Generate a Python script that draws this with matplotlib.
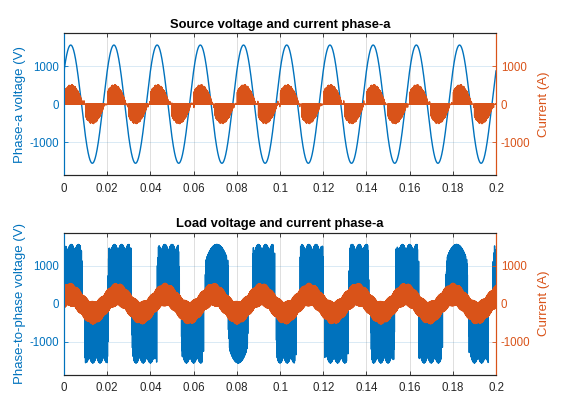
import numpy as np
import matplotlib
matplotlib.use('Agg')
import matplotlib.pyplot as plt

plt.rcParams['font.family'] = ['Liberation Sans', 'DejaVu Sans']

BLUE = '#0072BD'
ORANGE = '#D95319'
DARK = '#262626'

# time axis of the simulation
t_end = 0.2
dt = 2.5e-5

# source side (top plot)
src_freq = 50.0
src_v_peak = 1560.0
src_v_peak_time = 0.0031
src_i_peak = 520.0
src_i_on = [0.0002, 0.0100]     # lobe start inside each 20 ms cycle
src_i_off = [0.0086, 0.0186]    # lobe end inside each 20 ms cycle
src_i_sign = [1, -1]
src_i_gap_spike = 90.0

# load side (bottom plot): pulse blocks of the line-to-line voltage
load_v_peak = 1560.0
load_block_start = [0.0000, 0.0096, 0.0204, 0.0315, 0.0432, 0.0544, 0.0654, 0.0761,
                    0.0875, 0.0983, 0.1093, 0.1207, 0.1318, 0.1420, 0.1535, 0.1643,
                    0.1767, 0.1876, 0.1985]
load_block_end = [0.0084, 0.0204, 0.0310, 0.0430, 0.0535, 0.0646, 0.0761, 0.0852,
                  0.0975, 0.1075, 0.1200, 0.1316, 0.1411, 0.1530, 0.1643, 0.1752,
                  0.1868, 0.1965, 0.2000]
load_block_sign = [1, -1, 1, -1, 1, -1, 1, -1, 1, -1, 1, -1, 1, -1, 1, -1, 1, -1, 1]
load_block_arch = [0, 0, 0, 0, 0, 0, 1, 1, 0, 0, 0, 0, 0, 0, 0, 0, 1, 0, 0]
load_freq = 45.0
load_i_peak = 240.0
load_i_band = 300.0
load_i_zero_time = 0.0191

xtick_vals = [0, 0.02, 0.04, 0.06, 0.08, 0.1, 0.12, 0.14, 0.16, 0.18, 0.2]
xtick_labels = ['0', '0.02', '0.04', '0.06', '0.08', '0.1', '0.12', '0.14', '0.16', '0.18', '0.2']
ytick_vals = [-1000, 0, 1000]
ytick_labels = ['-1000', '0', '1000']
y_limits = (-1870, 1870)

titles = ['Source voltage and current phase-a', 'Load voltage and current phase-a']
left_labels = ['Phase-a voltage (V)', 'Phase-to-phase voltage (V)']
right_label = 'Current (A)'


# build the switched waveforms
t = np.arange(0, t_end + dt / 2, dt)
k = np.arange(len(t))
sw = (k % 2 == 0).astype(float)
w_src = 2 * np.pi * src_freq

v_src = src_v_peak * np.cos(w_src * (t - src_v_peak_time))

# thin spikes between the current lobes
i_src = np.where(k % 37 == 0, src_i_gap_spike * np.cos(k * 0.9), 0.0)
for c in range(11):
    for on, off, s in zip(src_i_on, src_i_off, src_i_sign):
        ts, te = c / src_freq + on, c / src_freq + off
        m = (t >= ts) & (t < te)
        u = (t[m] - ts) / (te - ts)
        env = src_i_peak * np.sin(np.pi * (0.2 + 0.8 * u)) ** 0.8
        env *= 1 - 0.06 * np.cos(6 * np.pi * u) ** 2
        i_src[m] = s * env * sw[m] * (0.94 + 0.06 * np.cos(k[m] * 1.3))

# six-pulse envelope of the input line voltages
env6 = load_v_peak * np.max(np.abs(np.stack(
    [np.cos(w_src * t - j * np.pi / 3) for j in range(3)])), axis=0)

v_load = np.zeros_like(t)
edge = 0.0008
for ts, te, s, arch in zip(load_block_start, load_block_end, load_block_sign, load_block_arch):
    m = (t >= ts) & (t < te)
    u = (t[m] - ts) / (te - ts)
    if arch:
        env = load_v_peak * (1 - 0.3 * (2 * u - 1) ** 2)
    else:
        env = env6[m]
    on = sw[m].copy()
    soft = ((t[m] - ts) < edge) | ((te - t[m]) < edge)
    on[soft] = (k[m][soft] % 7 == 0) * (0.4 + 0.6 * np.abs(np.cos(k[m][soft] * 0.37)))
    v_load[m] = s * env * on

i_center = load_i_peak * np.sin(2 * np.pi * load_freq * (t - load_i_zero_time))
i_hw = load_i_band * (0.85 + 0.15 * np.abs(np.cos(3 * w_src * t)))
i_load = i_center + i_hw * (2 * sw - 1) * (0.9 + 0.1 * np.cos(k * 0.7))


fig = plt.figure(figsize=(5.64, 4.12), dpi=100)
positions = [[0.1135, 0.5752, 0.766, 0.344], [0.1135, 0.091, 0.766, 0.344]]
series = [(v_src, i_src), (v_load, i_load)]

for pos, (v, i), title, ylab in zip(positions, series, titles, left_labels):
    ax = fig.add_axes(pos)
    ax.plot(t, v, color=BLUE, lw=1.0)
    ax2 = ax.twinx()
    ax2.plot(t, i, color=ORANGE, lw=0.9)

    for a in (ax, ax2):
        a.set_xlim(0, t_end)
        a.set_ylim(*y_limits)
        a.set_yticks(ytick_vals)
        a.set_yticklabels(ytick_labels)
    ax.set_xticks(xtick_vals)
    ax.set_xticklabels(xtick_labels)

    ax.grid(True, axis='x', color=DARK, alpha=0.15, lw=0.7)
    ax.grid(True, axis='y', color=BLUE, alpha=0.15, lw=0.7)

    ax.tick_params(axis='x', direction='in', length=3, width=0.6, colors=DARK,
                   labelsize=8.3, pad=5.5, top=True)
    ax.tick_params(axis='y', direction='in', length=3, width=0.6, colors=BLUE,
                   labelsize=8.3, pad=3.5)
    ax2.tick_params(axis='y', direction='in', length=3, width=0.6, colors=ORANGE,
                    labelsize=8.3, pad=3.5)

    for a in (ax, ax2):
        a.spines['top'].set_color(DARK)
        a.spines['bottom'].set_color(DARK)
        a.spines['left'].set_color(BLUE)
        a.spines['right'].set_color(ORANGE)
        for sp in a.spines.values():
            sp.set_linewidth(0.8)

    ax.set_title(title, fontsize=9.4, fontweight='bold', color='black', pad=4)
    ax.set_ylabel(ylab, fontsize=9.5, color=BLUE)
    ax.yaxis.set_label_coords(-0.087, 0.5)
    ax2.set_ylabel(right_label, fontsize=9.5, color=ORANGE)
    ax2.yaxis.set_label_coords(1.096, 0.5)

fig.savefig('out.png', dpi=100)
